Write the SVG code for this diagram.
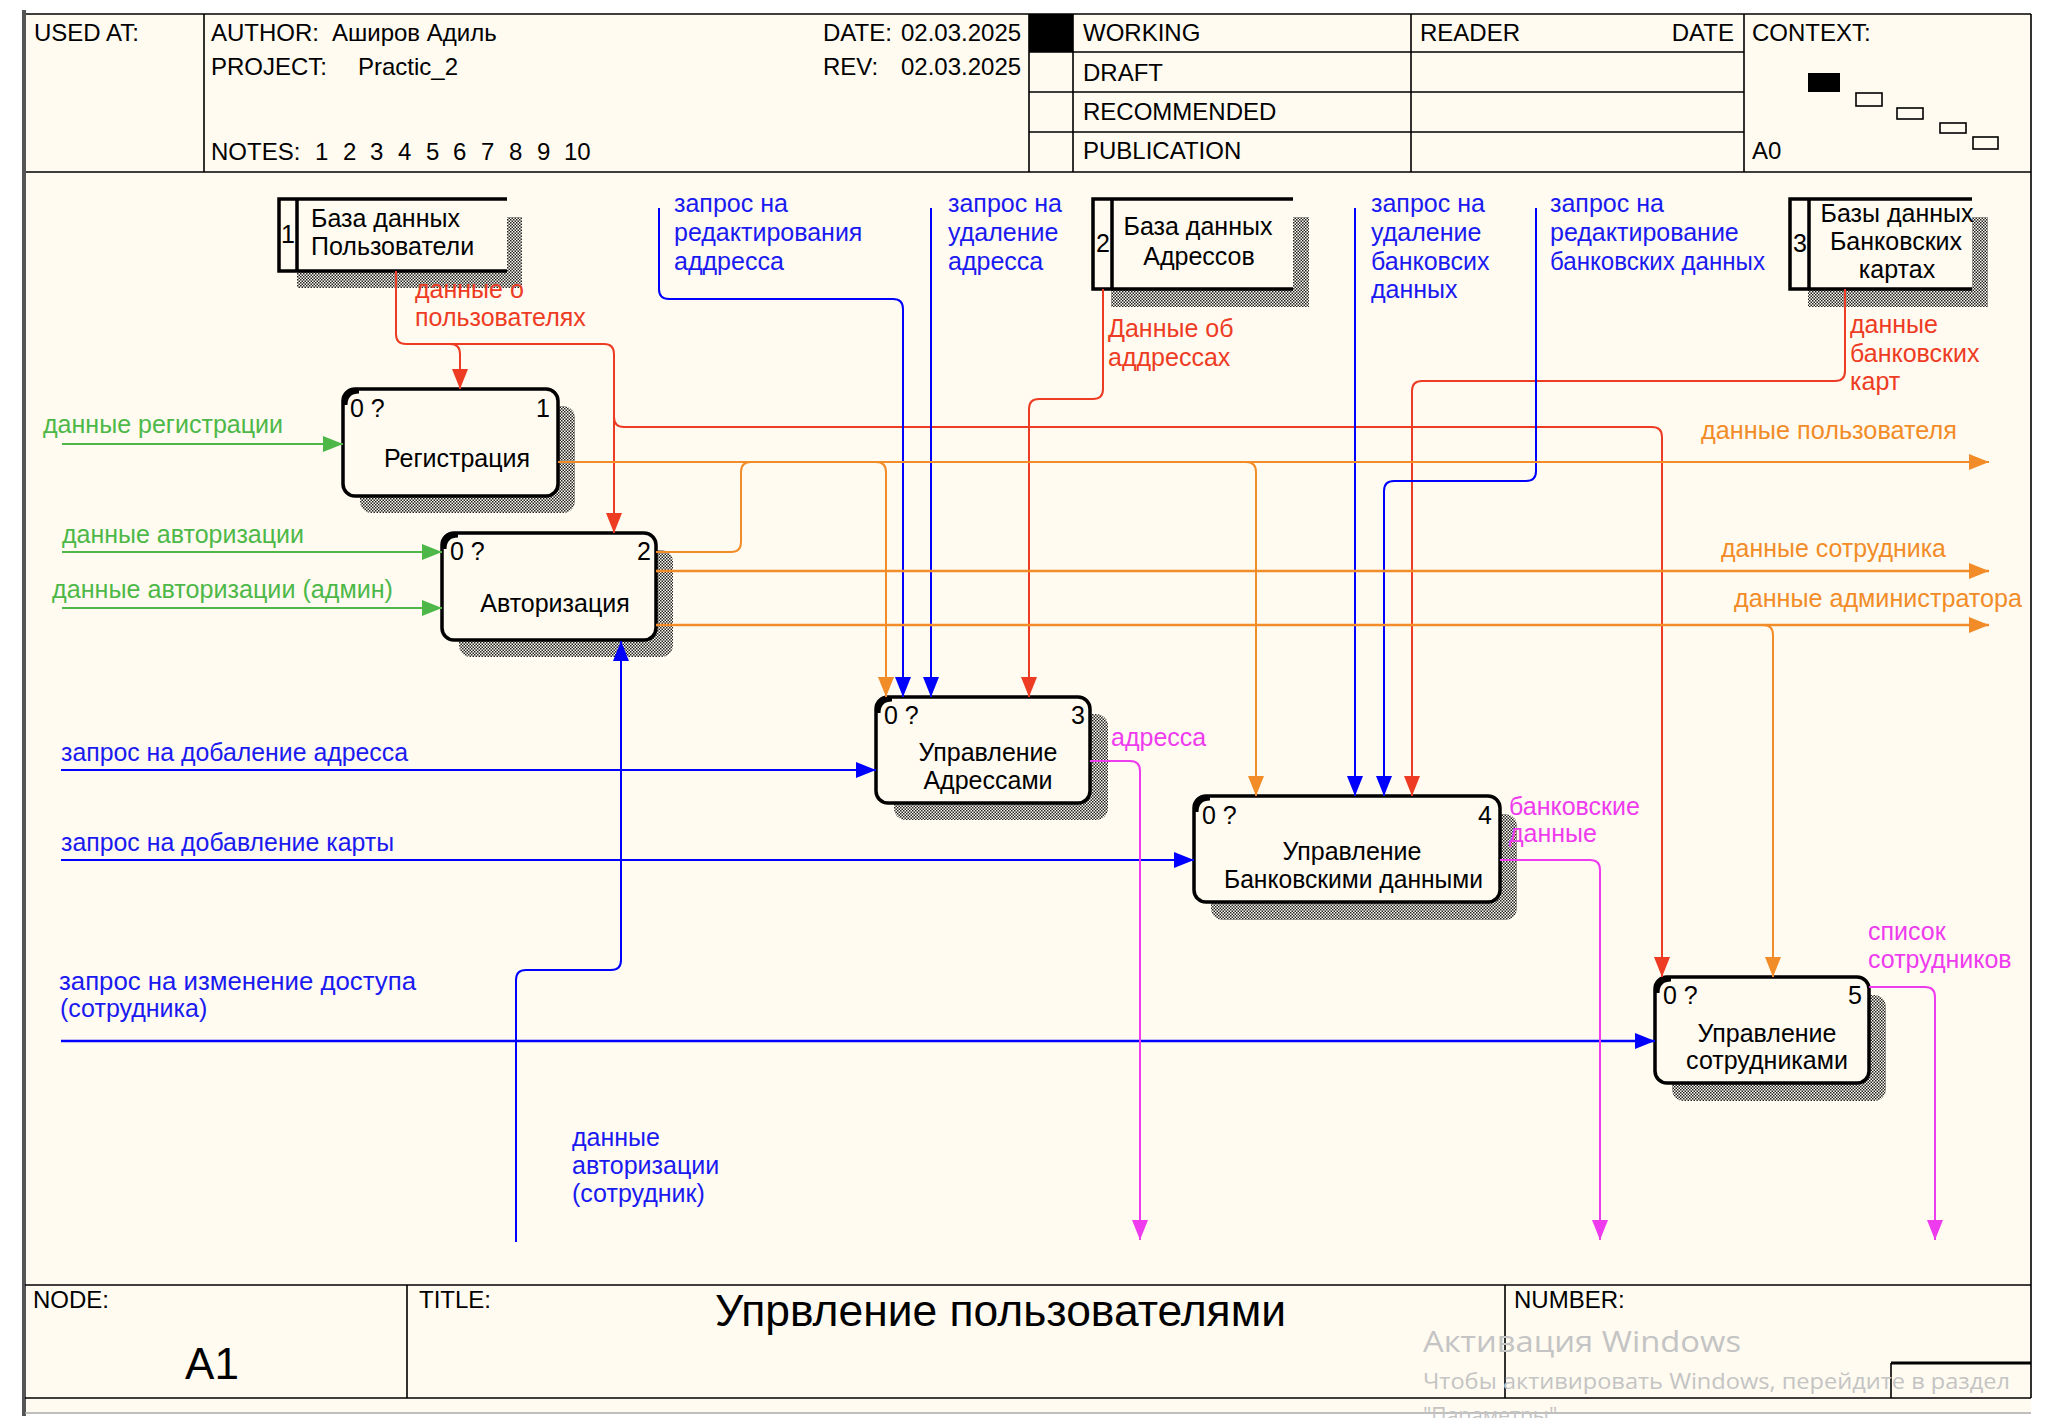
<svg xmlns="http://www.w3.org/2000/svg" width="2052" height="1418" viewBox="0 0 2052 1418">
<defs>
<style>
text{font-family:"Liberation Sans",Arial,sans-serif;font-size:25px;fill:#000}
.h{font-size:24px}
.c{text-anchor:middle}
.e{text-anchor:end}
.gr{fill:#4DB848}.rd{fill:#EE3B24}.bl{fill:#1A1AF0}.or{fill:#F28C28}.mg{fill:#EE3BEE}
.ln{stroke:#000;stroke-width:1.6;fill:none}
.cn{fill:none;stroke-width:2}
.sg{stroke:#4DB848}.sr{stroke:#EE3B24}.sb{stroke:#0000FF}.so{stroke:#F28C28}.sm{stroke:#EE3BEE}
.box{fill:#FFFBF0;stroke:#000;stroke-width:3.5}
.crn{fill:none;stroke:#000;stroke-width:5}
.shd{fill:url(#hatch)}
.wm{font-family:"Open Sans","Noto Sans",sans-serif;fill:#C4C4C4}
</style>
<pattern id="hatch" width="3" height="3" patternUnits="userSpaceOnUse">
<rect width="3" height="3" fill="#FFFBF0"/>
<rect width="1.5" height="1.5" fill="#222"/>
<rect x="1.5" y="1.5" width="1.5" height="1.5" fill="#222"/>
</pattern>
<marker id="ag" markerWidth="20" markerHeight="16" refX="20" refY="8" orient="auto" markerUnits="userSpaceOnUse"><path d="M0,0 L20,8 L0,16 z" fill="#4DB848"/></marker>
<marker id="ar" markerWidth="20" markerHeight="16" refX="20" refY="8" orient="auto" markerUnits="userSpaceOnUse"><path d="M0,0 L20,8 L0,16 z" fill="#EE3B24"/></marker>
<marker id="ab" markerWidth="20" markerHeight="16" refX="20" refY="8" orient="auto" markerUnits="userSpaceOnUse"><path d="M0,0 L20,8 L0,16 z" fill="#0000FF"/></marker>
<marker id="ao" markerWidth="20" markerHeight="16" refX="20" refY="8" orient="auto" markerUnits="userSpaceOnUse"><path d="M0,0 L20,8 L0,16 z" fill="#F28C28"/></marker>
<marker id="am" markerWidth="20" markerHeight="16" refX="20" refY="8" orient="auto" markerUnits="userSpaceOnUse"><path d="M0,0 L20,8 L0,16 z" fill="#EE3BEE"/></marker>
</defs>

<rect width="2052" height="1418" fill="#FFFFFF"/>
<rect x="25" y="14" width="2006" height="1399" fill="#FFFBF0"/>

<g id="frame">
<path class="ln" d="M25,14 H2031 M25,172 H2031 M2031,14 V1398 M204,14 V172 M1029,14 V172 M1073,14 V172 M1411,14 V172 M1744,14 V172 M1029,52 H1744 M1029,92 H1744 M1029,132 H1744"/>
<rect x="1029" y="14" width="44" height="38" fill="#000"/>
<path d="M24,10 V1416" stroke="#555" stroke-width="4"/>
<path d="M25,1413 H2031" stroke="#AAAAAA" stroke-width="1.5"/>
<text class="h" x="34" y="41">USED AT:</text>
<text class="h" x="211" y="41">AUTHOR:</text>
<text class="h" x="332" y="41">Аширов Адиль</text>
<text class="h" x="211" y="75">PROJECT:</text>
<text class="h" x="358" y="75">Practic_2</text>
<text class="h" x="211" y="160">NOTES:</text>
<text class="h" x="315" y="160">1</text>
<text class="h" x="343" y="160">2</text>
<text class="h" x="370" y="160">3</text>
<text class="h" x="398" y="160">4</text>
<text class="h" x="426" y="160">5</text>
<text class="h" x="453" y="160">6</text>
<text class="h" x="481" y="160">7</text>
<text class="h" x="509" y="160">8</text>
<text class="h" x="537" y="160">9</text>
<text class="h" x="564" y="160">10</text>
<text class="h" x="823" y="41">DATE:</text>
<text class="h" x="901" y="41">02.03.2025</text>
<text class="h" x="823" y="75">REV:</text>
<text class="h" x="901" y="75">02.03.2025</text>
<text class="h" x="1083" y="41">WORKING</text>
<text class="h" x="1083" y="81">DRAFT</text>
<text class="h" x="1083" y="120">RECOMMENDED</text>
<text class="h" x="1083" y="159">PUBLICATION</text>
<text class="h" x="1420" y="41">READER</text>
<text class="h e" x="1734" y="41">DATE</text>
<text class="h" x="1752" y="41">CONTEXT:</text>
<text class="h" x="1752" y="159">A0</text>
<rect x="1808" y="73" width="32" height="19" fill="#000"/>
<rect x="1856" y="93" width="26" height="13" fill="none" stroke="#000" stroke-width="1.6"/>
<rect x="1897" y="108" width="26" height="11" fill="none" stroke="#000" stroke-width="1.6"/>
<rect x="1940" y="123" width="26" height="10" fill="none" stroke="#000" stroke-width="1.6"/>
<rect x="1973" y="137" width="25" height="12" fill="none" stroke="#000" stroke-width="1.6"/>

<path class="ln" d="M25,1285 H2031 M25,1398 H2031 M407,1285 V1398 M1505,1285 V1398 M1891,1363 V1398"/>
<path d="M1891,1363 H2031" stroke="#000" stroke-width="3"/>
<text class="h" x="33" y="1308">NODE:</text>
<text class="h" x="419" y="1308">TITLE:</text>
<text class="h" x="1514" y="1308">NUMBER:</text>
<text x="715" y="1326" style="font-size:44px" textLength="571" lengthAdjust="spacingAndGlyphs">Упрвление пользователями</text>
<text class="c" x="212" y="1379" style="font-size:44px">A1</text>
<text class="wm" x="1423" y="1352" style="font-size:30px" textLength="318" lengthAdjust="spacingAndGlyphs">Активация Windows</text>
<text class="wm" x="1423" y="1389" style="font-size:21px" textLength="587" lengthAdjust="spacingAndGlyphs">Чтобы активировать Windows, перейдите в раздел</text>
<text class="wm" x="1423" y="1423" style="font-size:21px">"Параметры".</text>
</g>

<g id="store1">
<rect class="shd" x="297" y="217" width="225" height="71"/>
<rect x="279" y="199" width="228" height="72" fill="#FFFBF0"/>
<path d="M507,199 H279 V271 H507 M297,199 V271" stroke="#000" stroke-width="3.5" fill="none"/>
<text class="c" x="288" y="243">1</text>
<text x="311" y="227">База данных</text>
<text x="311" y="255">Пользователи</text>
</g>

<g id="store2">
<rect class="shd" x="1111" y="217" width="198" height="90"/>
<rect x="1093" y="199" width="200" height="90" fill="#FFFBF0"/>
<path d="M1293,199 H1093 V289 H1293 M1112,199 V289" stroke="#000" stroke-width="3.5" fill="none"/>
<text class="c" x="1103" y="252">2</text>
<text class="c" x="1198" y="235">База данных</text>
<text class="c" x="1199" y="265">Адрессов</text>
</g>

<g id="store3">
<rect class="shd" x="1808" y="217" width="180" height="90"/>
<rect x="1790" y="199" width="182" height="90" fill="#FFFBF0"/>
<path d="M1972,199 H1790 V289 H1972 M1809,199 V289" stroke="#000" stroke-width="3.5" fill="none"/>
<text class="c" x="1800" y="252">3</text>
<text class="c" x="1897" y="222">Базы данных</text>
<text class="c" x="1896" y="250">Банковских</text>
<text class="c" x="1897" y="278">картах</text>
</g>

<g id="act1">
<rect class="shd" x="360" y="406" width="215" height="107" rx="12"/>
<rect class="box" x="343" y="389" width="215" height="107" rx="12"/>
<path class="crn" d="M345,405 Q345,391 359,391"/>
<text x="350" y="417">0 ?</text>
<text class="e" x="550" y="417">1</text>
<text class="c" x="457" y="467">Регистрация</text>
</g>

<g id="act2">
<rect class="shd" x="459" y="550" width="214" height="107" rx="12"/>
<rect class="box" x="442" y="533" width="214" height="107" rx="12"/>
<path class="crn" d="M444,549 Q444,535 458,535"/>
<text x="450" y="560">0 ?</text>
<text class="e" x="651" y="560">2</text>
<text class="c" x="555" y="612">Авторизация</text>
</g>

<g id="act3">
<rect class="shd" x="894" y="714" width="214" height="106" rx="12"/>
<rect class="box" x="876" y="697" width="214" height="106" rx="12"/>
<path class="crn" d="M878,713 Q878,699 892,699"/>
<text x="884" y="724">0 ?</text>
<text class="e" x="1085" y="724">3</text>
<text class="c" x="988" y="761">Управление</text>
<text class="c" x="988" y="789">Адрессами</text>
</g>

<g id="act4">
<rect class="shd" x="1211" y="814" width="306" height="106" rx="12"/>
<rect class="box" x="1194" y="796" width="306" height="106" rx="12"/>
<path class="crn" d="M1196,812 Q1196,798 1210,798"/>
<text x="1202" y="824">0 ?</text>
<text class="e" x="1492" y="824">4</text>
<text class="c" x="1352" y="860">Управление</text>
<text x="1224" y="888" textLength="259" lengthAdjust="spacingAndGlyphs">Банковскими данными</text>
</g>

<g id="act5">
<rect class="shd" x="1672" y="995" width="214" height="106" rx="12"/>
<rect class="box" x="1655" y="977" width="214" height="106" rx="12"/>
<path class="crn" d="M1657,993 Q1657,979 1671,979"/>
<text x="1663" y="1004">0 ?</text>
<text class="e" x="1862" y="1004">5</text>
<text class="c" x="1767" y="1042">Управление</text>
<text class="c" x="1767" y="1069">сотрудниками</text>
</g>

<g id="connectors">
<path class="cn sg" d="M62,444 H343" marker-end="url(#ag)"/>
<path class="cn sg" d="M62,552 H442" marker-end="url(#ag)"/>
<path class="cn sg" d="M62,608 H442" marker-end="url(#ag)"/>

<path class="cn sr" d="M396,271 V334 Q396,344 406,344 H604 Q614,344 614,354 V533" marker-end="url(#ar)"/>
<path class="cn sr" d="M450,344 Q460,344 460,354 V389" marker-end="url(#ar)"/>
<path class="cn sr" d="M614,417 Q614,427 624,427 H1652 Q1662,427 1662,437 V977" marker-end="url(#ar)"/>
<path class="cn sr" d="M1103,289 V389 Q1103,399 1093,399 H1039 Q1029,399 1029,409 V697" marker-end="url(#ar)"/>
<path class="cn sr" d="M1845,289 V371 Q1845,381 1835,381 H1422 Q1412,381 1412,391 V796" marker-end="url(#ar)"/>

<path class="cn sb" d="M659,208 V289 Q659,299 669,299 H893 Q903,299 903,309 V697" marker-end="url(#ab)"/>
<path class="cn sb" d="M931,208 V697" marker-end="url(#ab)"/>
<path class="cn sb" d="M1355,208 V796" marker-end="url(#ab)"/>
<path class="cn sb" d="M1536,208 V471 Q1536,481 1526,481 H1394 Q1384,481 1384,491 V796" marker-end="url(#ab)"/>
<path class="cn sb" d="M61,770 H876" marker-end="url(#ab)"/>
<path class="cn sb" d="M61,860 H1194" marker-end="url(#ab)"/>
<path class="cn sb" style="stroke-width:2.5" d="M61,1041 H1655" marker-end="url(#ab)"/>
<path class="cn sb" d="M516,1242 V980 Q516,970 526,970 H611 Q621,970 621,960 V641" marker-end="url(#ab)"/>

<path class="cn so" d="M558,462 H1989" marker-end="url(#ao)"/>
<path class="cn so" d="M876,462 Q886,462 886,472 V697" marker-end="url(#ao)"/>
<path class="cn so" d="M1246,462 Q1256,462 1256,472 V796" marker-end="url(#ao)"/>
<path class="cn so" d="M656,552 H731 Q741,552 741,542 V472 Q741,462 751,462"/>
<path class="cn so" style="stroke-width:2.5" d="M656,571 H1989" marker-end="url(#ao)"/>
<path class="cn so" style="stroke-width:2.5" d="M656,625 H1989" marker-end="url(#ao)"/>
<path class="cn so" d="M1763,625 Q1773,625 1773,635 V977" marker-end="url(#ao)"/>

<path class="cn sm" d="M1090,761 H1130 Q1140,761 1140,771 V1240" marker-end="url(#am)"/>
<path class="cn sm" d="M1500,860 H1590 Q1600,860 1600,870 V1240" marker-end="url(#am)"/>
<path class="cn sm" d="M1869,987 H1925 Q1935,987 1935,997 V1240" marker-end="url(#am)"/>

<text class="gr" x="43" y="433" textLength="240" lengthAdjust="spacingAndGlyphs">данные регистрации</text>
<text class="gr" x="62" y="543" textLength="242" lengthAdjust="spacingAndGlyphs">данные авторизации</text>
<text class="gr" x="52" y="598" textLength="341" lengthAdjust="spacingAndGlyphs">данные авторизации (админ)</text>
<text class="rd" x="415" y="298">данные о</text>
<text class="rd" x="415" y="326">пользователях</text>
<text class="rd" x="1108" y="337">Данные об</text>
<text class="rd" x="1108" y="366">аддрессах</text>
<text class="rd" x="1850" y="333">данные</text>
<text class="rd" x="1850" y="362">банковских</text>
<text class="rd" x="1850" y="390">карт</text>
<text class="bl" x="674" y="212">запрос на</text>
<text class="bl" x="674" y="241">редактирования</text>
<text class="bl" x="674" y="270">аддресса</text>
<text class="bl" x="948" y="212">запрос на</text>
<text class="bl" x="948" y="241">удаление</text>
<text class="bl" x="948" y="270">адресса</text>
<text class="bl" x="1371" y="212">запрос на</text>
<text class="bl" x="1371" y="241">удаление</text>
<text class="bl" x="1371" y="270">банковсих</text>
<text class="bl" x="1371" y="298">данных</text>
<text class="bl" x="1550" y="212">запрос на</text>
<text class="bl" x="1550" y="241">редактирование</text>
<text class="bl" x="1550" y="270" textLength="215" lengthAdjust="spacingAndGlyphs">банковских данных</text>
<text class="bl" x="61" y="761" textLength="347" lengthAdjust="spacingAndGlyphs">запрос на добаление адресса</text>
<text class="bl" x="61" y="851" textLength="333" lengthAdjust="spacingAndGlyphs">запрос на добавление карты</text>
<text class="bl" x="59" y="990" textLength="357" lengthAdjust="spacingAndGlyphs">запрос на изменение доступа</text>
<text class="bl" x="60" y="1017">(сотрудника)</text>
<text class="bl" x="572" y="1146">данные</text>
<text class="bl" x="572" y="1174">авторизации</text>
<text class="bl" x="572" y="1202">(сотрудник)</text>
<text class="or" x="1701" y="439" textLength="256" lengthAdjust="spacingAndGlyphs">данные пользователя</text>
<text class="or" x="1721" y="557" textLength="225" lengthAdjust="spacingAndGlyphs">данные сотрудника</text>
<text class="or" x="1734" y="607" textLength="288" lengthAdjust="spacingAndGlyphs">данные администратора</text>
<text class="mg" x="1111" y="746">адресса</text>
<text class="mg" x="1509" y="815">банковские</text>
<text class="mg" x="1509" y="842">данные</text>
<text class="mg" x="1868" y="940">список</text>
<text class="mg" x="1868" y="968">сотрудников</text>
</g>
</svg>
